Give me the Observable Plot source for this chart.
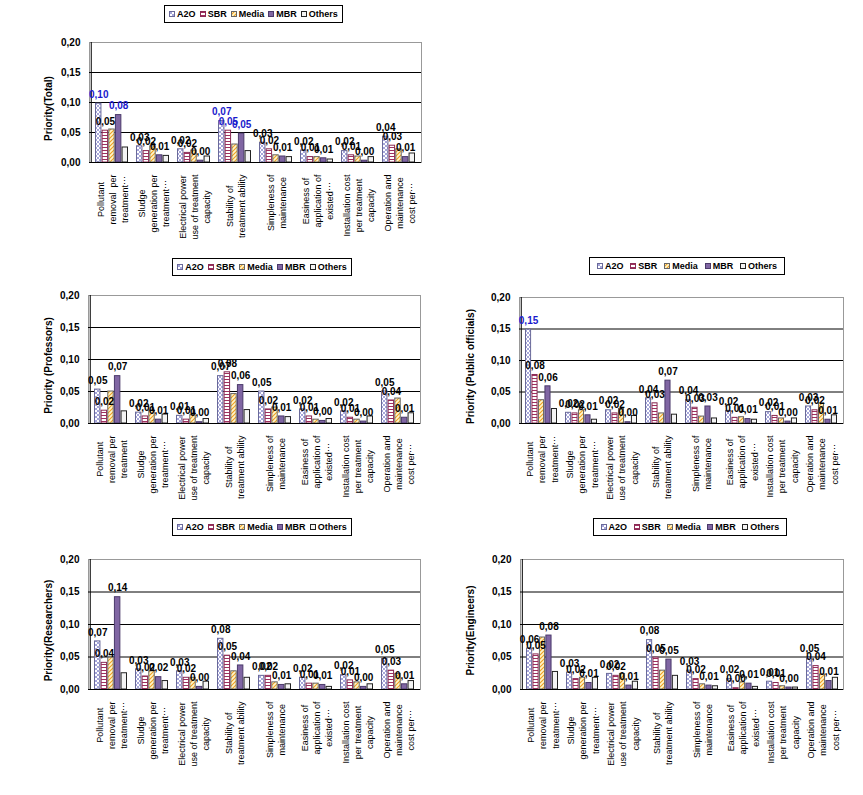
<!DOCTYPE html>
<html><head><meta charset="utf-8">
<script src="https://cdn.jsdelivr.net/npm/d3@7"></script>
<script src="https://cdn.jsdelivr.net/npm/@observablehq/plot@0.6"></script>
<style>
body{margin:0;background:#fff;}
#root{position:relative;width:863px;height:795px;overflow:hidden;font-family:Arial,"Liberation Sans",sans-serif;}
.panel{position:absolute;}
.legend{position:absolute;border:1px solid #000;height:18px;box-sizing:border-box;display:flex;align-items:center;justify-content:space-evenly;font-size:9px;font-weight:bold;white-space:nowrap;background:#fff;color:#000;}
.legend .it{display:flex;align-items:center;}
.legend svg{margin-right:2px;}
</style></head>
<body><div id="root"></div>
<script>
const series = ["A2O","SBR","Media","MBR","Others"];
const labelledSeries = [0,1,3];
const yTicks = [0,0.05,0.10,0.15,0.20];
const categories = ["Pollutant removal","Sludge generation","Electrical power","Stability","Simpleness","Easiness","Installation cost","Operation and maintenance cost"];

const labelsTotal = ["Pollutant\nremoval  per\ntreatment\u22ef","Sludge\ngeneration per\ntreatment\u22ef","Electrical power\nuse of treatment\ncapacity","Stability of\ntreatment ability","Simpleness of\nmaintenance","Easiness of\napplication of\nexisted\u22ef","Installation cost\nper treatment\ncapacity","Operation and\nmaintenance\ncost per\u22ef"];
const labelsProfessors = ["Pollutant\nremoval per\ntreatment","Sludge\ngeneration per\ntreatment\u22ef","Electrical power\nuse of treatment\ncapacity","Stability of\ntreatment ability","Simpleness of\nmaintenance","Easiness of\napplication of\nexisted\u22ef","Installation cost\nper treatment\ncapacity","Operation and\nmaintenance\ncost per\u22ef"];
const labelsOfficials = ["Pollutant\nremoval per\ntreatment\u22ef","Sludge\ngeneration per\ntreatment\u22ef","Electrical power\nuse of treatment\ncapacity","Stability of\ntreatment ability","Simpleness of\nmaintenance","Easiness of\napplication of\nexisted\u22ef","Installation cost\nper treatment\ncapacity","Operation and\nmaintenance\ncost per\u22ef"];
const labelsResearchers = labelsOfficials;
const labelsEngineers = labelsOfficials;

// rows: A2O, SBR, Media, MBR, Others
const totalValues = [
 [0.098,0.027,0.022,0.069,0.033,0.020,0.019,0.043],
 [0.053,0.019,0.016,0.053,0.022,0.009,0.012,0.028],
 [0.055,0.027,0.020,0.030,0.012,0.009,0.010,0.022],
 [0.079,0.012,0.003,0.048,0.010,0.007,0.003,0.009],
 [0.025,0.011,0.010,0.019,0.009,0.005,0.009,0.015]
];
const professorsValues = [
 [0.053,0.017,0.012,0.074,0.050,0.022,0.019,0.050],
 [0.020,0.011,0.006,0.080,0.022,0.011,0.009,0.036],
 [0.050,0.020,0.013,0.046,0.025,0.006,0.006,0.039],
 [0.074,0.006,0.002,0.060,0.011,0.004,0.003,0.009],
 [0.019,0.014,0.007,0.021,0.010,0.007,0.011,0.016]
];
const officialsValues = [
 [0.149,0.017,0.021,0.040,0.037,0.020,0.018,0.027],
 [0.077,0.016,0.016,0.032,0.025,0.009,0.012,0.021],
 [0.037,0.021,0.023,0.016,0.011,0.010,0.008,0.032],
 [0.059,0.013,0.002,0.068,0.027,0.007,0.003,0.006],
 [0.023,0.006,0.012,0.014,0.008,0.006,0.008,0.013]
];
const researchersValues = [
 [0.074,0.031,0.028,0.078,0.021,0.018,0.022,0.047],
 [0.041,0.020,0.018,0.052,0.021,0.009,0.014,0.029],
 [0.049,0.028,0.018,0.028,0.011,0.009,0.011,0.024],
 [0.142,0.019,0.004,0.037,0.007,0.007,0.004,0.008],
 [0.025,0.013,0.012,0.018,0.008,0.004,0.008,0.013]
];
const engineersValues = [
 [0.063,0.026,0.024,0.076,0.029,0.016,0.012,0.049],
 [0.054,0.016,0.021,0.049,0.016,0.002,0.010,0.036],
 [0.080,0.018,0.024,0.029,0.008,0.011,0.005,0.023],
 [0.083,0.010,0.006,0.046,0.006,0.009,0.003,0.013],
 [0.027,0.018,0.012,0.021,0.005,0.004,0.003,0.018]
];
// highlighted (blue) labels: [category index, series index]
const totalBlue = [[0,0],[0,3],[3,0],[3,1],[3,3]];
const officialsBlue = [[0,0]];

const fills = ["url(#pA2O)","url(#pSBR)","url(#pMedia)","#8066a3","#f4f4f4"];
const strokes = ["#6a6a9a","#8a2b55","#666666","#4b3a6b","#222222"];

const root = document.getElementById("root");
root.insertAdjacentHTML("beforeend", `<svg width="0" height="0" style="position:absolute">
<defs>
<pattern id="pA2O" width="4" height="4" patternUnits="userSpaceOnUse"><rect width="4" height="4" fill="#fff"/><path d="M0,0L4,4M4,0L0,4" stroke="#8f8fd0" stroke-width="0.8"/></pattern>
<pattern id="pSBR" width="4" height="3" patternUnits="userSpaceOnUse"><rect width="4" height="3" fill="#fff"/><path d="M0,1.5H4" stroke="#a0305f" stroke-width="1"/></pattern>
<pattern id="pMedia" width="4" height="4" patternUnits="userSpaceOnUse"><rect width="4" height="4" fill="#fff6cc"/><path d="M-1,1L1,-1M0,4L4,0M3,5L5,3" stroke="#f0a020" stroke-width="1.1"/></pattern>
</defs></svg>`);

const ctx = document.createElement("canvas").getContext("2d");
const fmt = v => v.toFixed(2).replace(".", ",");

function panel(cfg) {
  const {values, labels, yLabel, blue = [], svgLeft, svgWidth, plotLeft, plotRight, plotTop, plotBottom, yLabelX, legend} = cfg;
  const svgTop = plotTop - 10;
  const height = plotBottom + 85 - svgTop;
  const innerW = plotRight - plotLeft;
  const step = innerW / categories.length;
  const bw = step * 0.8;
  const barW = bw / 5;
  const rows = [];
  values.forEach((arr, s) => arr.forEach((v, c) => rows.push({cat: categories[c], c, s, value: v})));
  const isBlue = d => blue.some(([c, s]) => c === d.c && s === d.s);
  const marks = [
    Plot.frame({stroke: "#999"}),
    Plot.ruleY([0.05, 0.10, 0.15], {stroke: "#000"}),
  ];
  series.forEach((name, s) => {
    marks.push(Plot.barY(rows.filter(d => d.s === s), {
      x: "cat", y: "value", fill: fills[s], stroke: strokes[s], strokeWidth: 1,
      insetLeft: s * barW + 0.5, insetRight: (4 - s) * barW + 0.5
    }));
  });
  marks.push(Plot.ruleY([0], {stroke: "#000"}));
  marks.push(Plot.ruleX([categories[0]], {dx: -step / 2, stroke: "#000"}));
  labelledSeries.forEach(s => {
    marks.push(Plot.text(rows.filter(d => d.s === s), {
      x: "cat", y: "value", text: d => fmt(d.value),
      dx: (s + 0.5) * barW - bw / 2, dy: -9,
      fill: d => isBlue(d) ? "#1a1acc" : "#000",
      fontSize: 10, fontWeight: "bold"
    }));
  });
  ctx.font = "9px Arial";
  labels.forEach((lab, c) => {
    const maxW = Math.max(...lab.split("\n").map(t => ctx.measureText(t).width));
    marks.push(Plot.text([categories[c]], {
      x: d => d, frameAnchor: "bottom", text: () => lab,
      rotate: -90, textAnchor: "middle", lineAnchor: "middle", lineHeight: 1.35,
      dy: 12 + maxW / 2, fontSize: 9, fill: "#000"
    }));
  });
  marks.push(Plot.text([yLabel], {
    frameAnchor: "left", text: d => d, rotate: -90, textAnchor: "middle",
    dx: yLabelX - plotLeft, dy: 6,
    fontSize: 10, fontWeight: "bold", fill: "#000"
  }));
  const chart = Plot.plot({
    width: svgWidth, height,
    marginLeft: plotLeft - svgLeft, marginRight: svgLeft + svgWidth - plotRight,
    marginTop: plotTop - svgTop, marginBottom: svgTop + height - plotBottom,
    style: {fontFamily: "Arial, 'Liberation Sans', sans-serif", background: "transparent", color: "#000", overflow: "visible"},
    x: {domain: categories, paddingInner: 0.2, paddingOuter: 0.1, axis: null},
    y: {domain: [0, 0.2], ticks: yTicks, tickFormat: fmt, tickSize: 0, tickPadding: 9, label: null},
    color: {type: "identity"},
    marks
  });
  chart.classList.add("panel");
  chart.style.left = svgLeft + "px";
  chart.style.top = svgTop + "px";
  chart.querySelectorAll('g[aria-label="y-axis tick label"] text').forEach(t => {
    t.setAttribute("font-size", "10"); t.setAttribute("font-weight", "bold");
  });
  root.appendChild(chart);
  const lg = document.createElement("div");
  lg.className = "legend";
  lg.style.left = legend[0] + "px"; lg.style.top = legend[1] + "px"; lg.style.width = legend[2] + "px";
  series.forEach((name, s) => {
    const it = document.createElement("span");
    it.className = "it";
    it.innerHTML = `<svg width="6" height="6"><rect x="0.5" y="0.5" width="5" height="5" fill="${fills[s]}" stroke="${strokes[s]}"/></svg>${name}`;
    lg.appendChild(it);
  });
  root.appendChild(lg);
}

panel({values: totalValues, labels: labelsTotal, yLabel: "Priority(Total)", blue: totalBlue,
  svgLeft: 0, svgWidth: 430, plotLeft: 89, plotRight: 421, plotTop: 42, plotBottom: 162, yLabelX: 48, legend: [164, 5, 179]});
panel({values: professorsValues, labels: labelsProfessors, yLabel: "Priority (Professors)",
  svgLeft: 0, svgWidth: 430, plotLeft: 88, plotRight: 420, plotTop: 295, plotBottom: 423, yLabelX: 48, legend: [172, 258, 180]});
panel({values: officialsValues, labels: labelsOfficials, yLabel: "Priority (Public officials)", blue: officialsBlue,
  svgLeft: 430, svgWidth: 433, plotLeft: 519, plotRight: 843, plotTop: 297, plotBottom: 423, yLabelX: 470, legend: [589, 257, 196]});
panel({values: researchersValues, labels: labelsResearchers, yLabel: "Priority(Researchers)",
  svgLeft: 0, svgWidth: 430, plotLeft: 88, plotRight: 420, plotTop: 559, plotBottom: 689, yLabelX: 48, legend: [172, 518, 180]});
panel({values: engineersValues, labels: labelsEngineers, yLabel: "Priority(Engineers)",
  svgLeft: 430, svgWidth: 433, plotLeft: 520, plotRight: 843, plotTop: 559, plotBottom: 689, yLabelX: 470, legend: [593, 518, 194]});
</script>
</body></html>
